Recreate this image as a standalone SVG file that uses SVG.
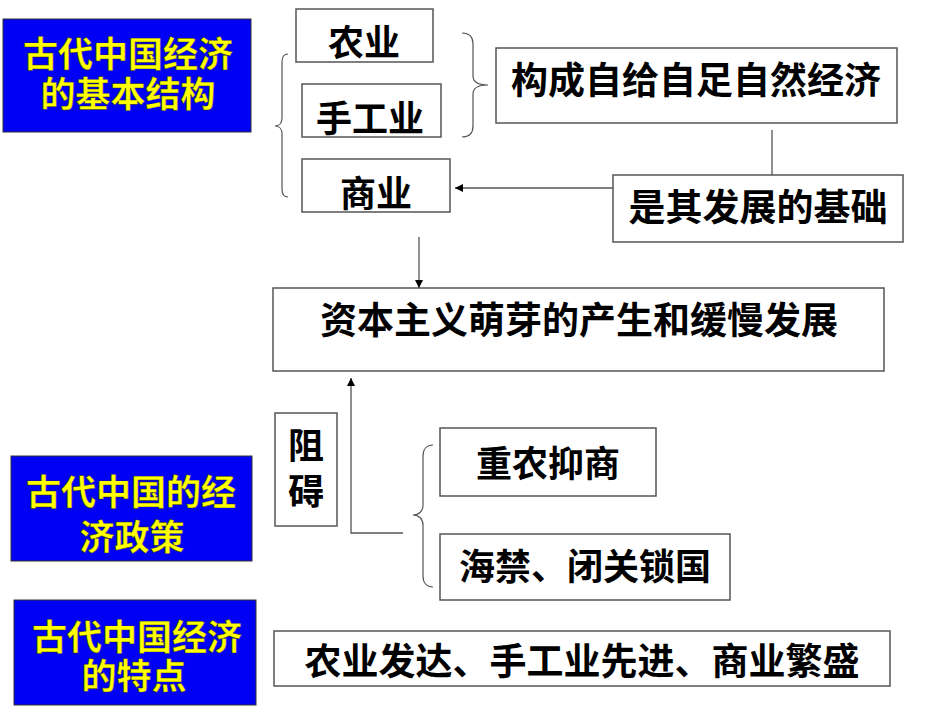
<svg xmlns="http://www.w3.org/2000/svg" width="950" height="713" viewBox="0 0 950 713">
  <style>
    .title rect { fill: #0000F5; stroke: #333; stroke-width: 1; }
    .title text { fill: #FFFF00; font-family: "Noto Sans CJK SC", sans-serif; font-weight: bold; font-size: 35px; text-anchor: middle; dominant-baseline: central; stroke: #333300; stroke-width: 0.4; }
    .box rect { fill: #fff; stroke: #555; stroke-width: 1.5; }
    .box text { fill: #000; font-family: "Noto Sans CJK SC", sans-serif; font-weight: bold; font-size: 36px; text-anchor: middle; dominant-baseline: central; }
    .box text.wide { font-size: 37px; }
    .line { fill: none; stroke: #555; stroke-width: 1.3; }
    .brace { fill: none; stroke: #555; stroke-width: 1.2; }
  </style>
  <defs>
    <marker id="arrow" viewBox="0 0 10 10" refX="10" refY="5" markerWidth="8" markerHeight="8" markerUnits="userSpaceOnUse" orient="auto">
      <path d="M0,0 L10,5 L0,10 Z" fill="#000"/>
    </marker>
  </defs>
  <rect width="950" height="713" fill="#fff"/>

  <!-- section headers (two-line labels) -->
  <g id="title-structure" class="title">
    <rect x="3" y="19" width="248" height="113"/>
    <text><tspan x="128" y="51">古代中国经济</tspan><tspan x="128" y="91">的基本结构</tspan></text>
  </g>
  <g id="title-policy" class="title">
    <rect x="11" y="456" width="241" height="105"/>
    <text><tspan x="131" y="489">古代中国的经</tspan><tspan x="132" y="534">济政策</tspan></text>
  </g>
  <g id="title-feature" class="title">
    <rect x="14" y="600" width="242" height="105"/>
    <text><tspan x="137" y="634">古代中国经济</tspan><tspan x="134" y="673">的特点</tspan></text>
  </g>

  <!-- economic sectors -->
  <g id="agriculture" class="box">
    <rect x="296" y="9" width="137" height="53"/>
    <text x="364" y="40">农业</text>
  </g>
  <g id="handicraft" class="box">
    <rect x="302" y="84" width="139" height="53"/>
    <text x="370" y="116">手工业</text>
  </g>
  <g id="commerce" class="box">
    <rect x="302" y="159" width="148" height="53"/>
    <text x="376" y="191">商业</text>
  </g>
  <g id="natural-economy" class="box">
    <rect x="496" y="48" width="401" height="75"/>
    <text class="wide" x="696" y="78">构成自给自足自然经济</text>
  </g>
  <g id="foundation" class="box">
    <rect x="613" y="175" width="290" height="67"/>
    <text class="wide" x="758" y="205">是其发展的基础</text>
  </g>
  <g id="capitalism" class="box">
    <rect x="273" y="288" width="611" height="83"/>
    <text class="wide" x="579" y="318">资本主义萌芽的产生和缓慢发展</text>
  </g>
  <g id="hinder" class="box">
    <rect x="275" y="413" width="62" height="113"/>
    <text><tspan x="306" y="443">阻</tspan><tspan x="306" y="489">碍</tspan></text>
  </g>
  <g id="policy-agri" class="box">
    <rect x="440" y="428" width="216" height="68"/>
    <text x="548" y="461">重农抑商</text>
  </g>
  <g id="policy-sea" class="box">
    <rect x="440" y="534" width="290" height="66"/>
    <text x="585" y="564">海禁、闭关锁国</text>
  </g>
  <g id="feature" class="box">
    <rect x="274" y="631" width="616" height="55"/>
    <text class="wide" x="582" y="659">农业发达、手工业先进、商业繁盛</text>
  </g>

  <!-- braces and connectors -->
  <g id="connectors">
    <path class="brace" d="M288,54 C284,54 282,57 282,62 L282,118 C282,123 279,126 275,126 C279,126 282,129 282,134 L282,189 C282,194 284,197 288,197"/>
    <path class="brace" d="M462,33 C469,33 473,37 473,44 L473,76 C473,82 478,85 488,85 C478,85 473,88 473,94 L473,126 C473,133 469,137 462,137"/>
    <path class="brace" d="M433,445 C427,445 423,449 423,456 L423,505 C423,511 419,515 413,515 C419,515 423,519 423,525 L423,576 C423,583 427,587 433,587"/>
    <line class="line" x1="772" y1="130" x2="772" y2="175"/>
    <line class="line" x1="613" y1="188" x2="455" y2="188" marker-end="url(#arrow)"/>
    <line class="line" x1="419" y1="237" x2="419" y2="288" marker-end="url(#arrow)"/>
    <polyline class="line" points="403,533 351,533 351,378" marker-end="url(#arrow)"/>
  </g>
</svg>
